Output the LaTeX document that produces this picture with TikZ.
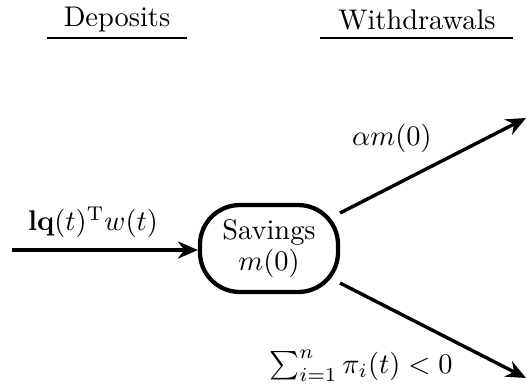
\documentclass[tikz,border=0pt]{standalone}
\usetikzlibrary{arrows.meta}
\begin{document}
\begin{tikzpicture}[x=0.352pt,y=-0.352pt,
  arr/.style={line width=1.2pt,-{Stealth[length=7pt,width=6pt]}},
  savebox/.style={draw,line width=1.5pt,rounded corners=14pt,minimum width=48.6pt,minimum height=30.6pt,align=center,inner sep=0pt},
  head/.style={inner sep=0pt},
  uline/.style={line width=0.6pt}]
\useasboundingbox (0,0) rectangle (527,389);
\node[head] (dep) at (117,20) {Deposits};
\node[head] (wd) at (417,20) {Withdrawals};
\coordinate (dl1) at (47,38); \coordinate (dl2) at (187,38);
\coordinate (wl1) at (320,38); \coordinate (wl2) at (513,38);
\draw[uline] (dl1) -- (dl2);
\draw[uline] (wl1) -- (wl2);
\node[savebox] (sav) at (269,248.5) {Savings\\[-1pt]$m(0)$};
\coordinate (in) at (12,250);
\draw[arr] (in) -- (sav.west |- in);
\node (inl) at (93,222) {$\mathbf{lq}(t)^{\mathrm{T}}w(t)$};
\coordinate (s1) at (340,213); \coordinate (e1) at (526,118);
\coordinate (s2) at (340,283); \coordinate (e2) at (526,378);
\draw[arr] (s1) -- (e1);
\draw[arr] (s2) -- (e2);
\node (l1) at (392,138) {$\alpha m(0)$};
\node (l2) at (361,366) {$\sum_{i=1}^{n}\pi_i(t)<0$};
\end{tikzpicture}
\end{document}
